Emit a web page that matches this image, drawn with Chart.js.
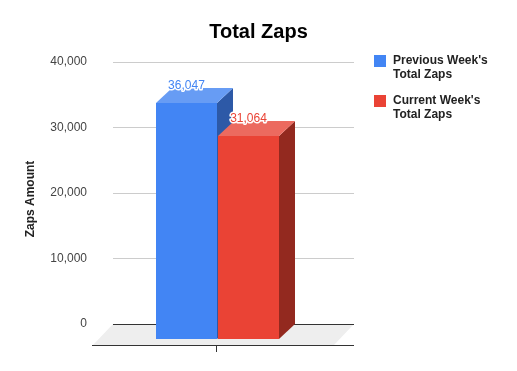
<!DOCTYPE html>
<html>
<head>
<meta charset="utf-8">
<script src="https://cdn.jsdelivr.net/npm/chart.js@4.4.0/dist/chart.umd.min.js"></script>
<style>
  html, body { margin: 0; padding: 0; background: #fff; }
</style>
</head>
<body>
<canvas id="chart" width="517" height="371"></canvas>
<script>
// Valeurs
const categories = ['Total Zaps'];
const seriesNames = [["Previous Week's", 'Total Zaps'], ["Current Week's", 'Total Zaps']];
const previousWeek = [36047];
const currentWeek = [31064];
const yTicks = [0, 10000, 20000, 30000, 40000];

const FONT = '"Liberation Sans", Arial, sans-serif';

// Couleurs des faces : avant, dessus, côté
const faces = [
  { front: '#4285f4', top: '#679cf4', side: '#2d59a7' },
  { front: '#ea4335', top: '#ec6a5f', side: '#93291f' },
];

// Décalage de profondeur (face arrière -> face avant)
const BAR_DX = -16;
const BAR_DY = 15;
const FLOOR_DX = -20;
const FLOOR_DY = 21;

const fmt = (v) => v.toLocaleString('en-US');

// Dessine le sol, les barres en 3D à la place des barres plates
const bars3d = {
  id: 'bars3d',
  beforeDatasetsDraw(chart) {
    const { ctx, chartArea, scales } = chart;
    const zeroY = Math.round(scales.y.getPixelForValue(0));

    ctx.save();
    // sol
    ctx.fillStyle = '#eeeeee';
    ctx.beginPath();
    ctx.moveTo(chartArea.left, zeroY);
    ctx.lineTo(chartArea.right, zeroY);
    ctx.lineTo(chartArea.right + FLOOR_DX, zeroY + FLOOR_DY);
    ctx.lineTo(chartArea.left + FLOOR_DX, zeroY + FLOOR_DY);
    ctx.closePath();
    ctx.fill();

    // ligne de base arrière et avant
    ctx.strokeStyle = '#333';
    ctx.lineWidth = 1;
    ctx.beginPath();
    ctx.moveTo(chartArea.left, zeroY + 0.5);
    ctx.lineTo(chartArea.right, zeroY + 0.5);
    ctx.moveTo(chartArea.left + FLOOR_DX - 1, zeroY + FLOOR_DY + 0.5);
    ctx.lineTo(chartArea.right, zeroY + FLOOR_DY + 0.5);
    // graduation de la catégorie
    categories.forEach((c, i) => {
      const tx = Math.round(scales.x.getPixelForValue(i) - 18) + 0.5;
      ctx.moveTo(tx, zeroY + FLOOR_DY);
      ctx.lineTo(tx, zeroY + FLOOR_DY + 7);
    });
    ctx.stroke();

    // barres
    chart.data.datasets.forEach((ds, di) => {
      const meta = chart.getDatasetMeta(di);
      const col = faces[di];
      meta.data.forEach((bar) => {
        const { x, y, base, width } = bar.getProps(['x', 'y', 'base', 'width'], true);
        const bl = Math.round(x - width / 2);
        const br = Math.round(x + width / 2);
        const bt = Math.round(y);
        const bb = Math.round(base);
        const fl = bl + BAR_DX, fr = br + BAR_DX, ft = bt + BAR_DY, fb = bb + BAR_DY;

        // côté droit
        ctx.fillStyle = col.side;
        ctx.beginPath();
        ctx.moveTo(fr, ft);
        ctx.lineTo(br, bt);
        ctx.lineTo(br, bb);
        ctx.lineTo(fr, fb);
        ctx.closePath();
        ctx.fill();

        // dessus
        ctx.fillStyle = col.top;
        ctx.beginPath();
        ctx.moveTo(fl, ft);
        ctx.lineTo(bl, bt);
        ctx.lineTo(br, bt);
        ctx.lineTo(fr, ft);
        ctx.closePath();
        ctx.fill();

        // face avant
        ctx.fillStyle = col.front;
        ctx.fillRect(fl, ft, fr - fl, fb - ft);
      });
    });
    ctx.restore();
    return false;
  },
  afterDraw(chart) {
    const { ctx, chartArea } = chart;
    ctx.save();

    // étiquettes de valeurs
    ctx.font = '12px ' + FONT;
    ctx.textAlign = 'center';
    ctx.textBaseline = 'alphabetic';
    ctx.lineJoin = 'round';
    chart.data.datasets.forEach((ds, di) => {
      const meta = chart.getDatasetMeta(di);
      meta.data.forEach((bar, i) => {
        const { x, y } = bar.getProps(['x', 'y'], true);
        const label = fmt(ds.data[i]);
        const lx = x + BAR_DX;
        const ly = Math.round(y) + 1;
        ctx.strokeStyle = '#fff';
        ctx.lineWidth = 3;
        ctx.strokeText(label, lx, ly);
        ctx.fillStyle = faces[di].front;
        ctx.fillText(label, lx, ly);
      });
    });

    // titre de l'axe vertical
    ctx.font = 'bold 12px ' + FONT;
    ctx.fillStyle = '#222';
    ctx.textBaseline = 'middle';
    ctx.save();
    ctx.translate(31, 199);
    ctx.rotate(-Math.PI / 2);
    ctx.fillText('Zaps Amount', 0, 0);
    ctx.restore();

    // légende à droite, sur deux lignes
    ctx.textAlign = 'left';
    chart.data.datasets.forEach((ds, di) => {
      const top = chartArea.top - 7 + di * 40;
      ctx.fillStyle = faces[di].front;
      ctx.fillRect(chartArea.right + 20, top, 12, 12);
      ctx.fillStyle = '#222';
      seriesNames[di].forEach((line, li) => {
        ctx.fillText(line, chartArea.right + 39, top + 6 + li * 14);
      });
    });
    ctx.restore();
  },
};

new Chart(document.getElementById('chart').getContext('2d'), {
  type: 'bar',
  data: {
    labels: categories,
    datasets: [
      { label: seriesNames[0].join(' '), data: previousWeek, backgroundColor: faces[0].front },
      { label: seriesNames[1].join(' '), data: currentWeek, backgroundColor: faces[1].front },
    ],
  },
  options: {
    responsive: false,
    animation: false,
    devicePixelRatio: 1,
    categoryPercentage: 0.515,
    barPercentage: 0.984,
    layout: { padding: { top: 0, right: 0, bottom: 47, left: 0 } },
    plugins: {
      legend: { display: false },
      tooltip: { enabled: false },
      title: {
        display: true,
        text: 'Total Zaps',
        color: '#000',
        font: { family: FONT, size: 20, weight: 'bold' },
        padding: { top: 20, bottom: 18 },
      },
    },
    scales: {
      x: { display: false },
      y: {
        min: yTicks[0],
        max: yTicks[yTicks.length - 1],
        afterFit(scale) { scale.width = 113; },
        afterBuildTicks(scale) { scale.ticks = yTicks.map((v) => ({ value: v })); },
        border: { display: false },
        grid: {
          drawTicks: false,
          color: (c) => (c.tick && c.tick.value === 0 ? '#333' : '#cccccc'),
        },
        ticks: {
          padding: 26,
          color: '#444',
          font: { family: FONT, size: 12 },
          callback: (v) => fmt(v),
        },
      },
      // axe vide à droite : réserve la place de la légende
      legendSpace: {
        type: 'linear',
        position: 'right',
        afterFit(scale) { scale.width = 163; },
        border: { display: false },
        grid: { display: false },
        ticks: { display: false },
      },
    },
  },
  plugins: [bars3d],
});
</script>
</body>
</html>
